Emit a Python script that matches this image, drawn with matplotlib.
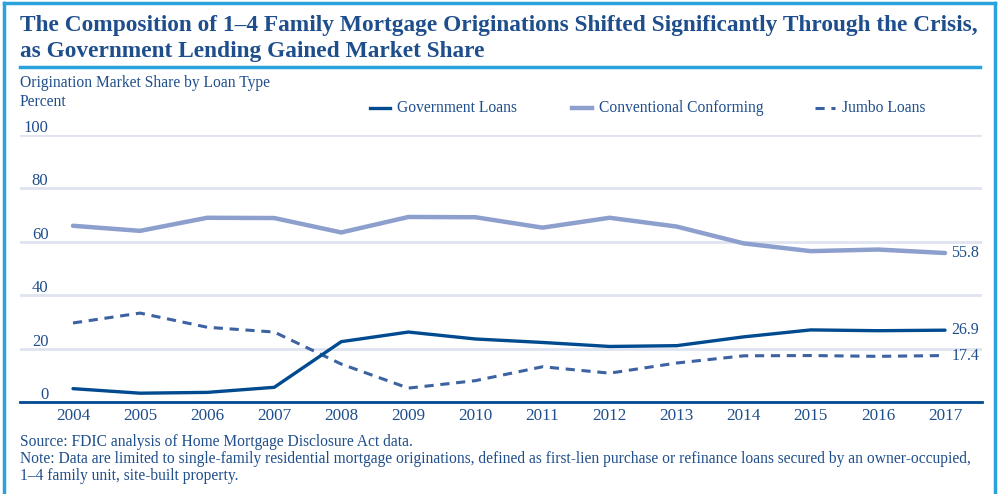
import matplotlib
matplotlib.use("Agg")
import matplotlib.pyplot as plt
from matplotlib.lines import Line2D

years = [2004, 2005, 2006, 2007, 2008, 2009, 2010, 2011, 2012, 2013, 2014, 2015, 2016, 2017]
government = [5.0, 3.3, 3.6, 5.5, 22.6, 26.2, 23.6, 22.3, 20.8, 21.1, 24.4, 27.0, 26.7, 26.9]
conventional = [66.0, 64.1, 69.0, 68.9, 63.5, 69.3, 69.2, 65.3, 69.0, 65.7, 59.4, 56.5, 57.1, 55.8]
jumbo = [29.6, 33.3, 28.0, 26.2, 14.2, 5.2, 8.0, 13.2, 10.8, 14.6, 17.3, 17.4, 17.1, 17.4]
yticks = [0, 20, 40, 60, 80, 100]

W, H = 999, 494
TXT = "#1f4e8c"
C_GOV = "#004a8f"
C_CONV = "#8c9fcd"
C_JUMBO = "#3c62a2"
GRID = "#dfe4f0"
BORDER = "#2aa3dc"
SERIF = ["Liberation Serif", "DejaVu Serif"]
SMALL = 11.2

fig = plt.figure(figsize=(W / 100, H / 100), dpi=100)
fig.patch.set_facecolor("white")

def fx(px):
    return px / W

def fy(py):
    return 1 - py / H

# border
fig.add_artist(Line2D([fx(4), fx(4)], [fy(3), 0], color=BORDER, lw=2.5, transform=fig.transFigure))
fig.add_artist(Line2D([fx(4), fx(995)], [fy(3), fy(3)], color=BORDER, lw=2.5, transform=fig.transFigure))
fig.add_artist(Line2D([fx(995), fx(995)], [fy(3), 0], color=BORDER, lw=2.5, transform=fig.transFigure))
# title underline
fig.add_artist(Line2D([fx(20), fx(980)], [fy(67), fy(67)], color=BORDER, lw=2.5, transform=fig.transFigure))

fig.text(fx(20), fy(25), "The Composition of 1\u20134 Family Mortgage Originations Shifted Significantly Through the Crisis,",
         family=SERIF, fontweight="bold", fontsize=16.8, color=TXT, va="center", ha="left")
fig.text(fx(20), fy(51), "as Government Lending Gained Market Share",
         family=SERIF, fontweight="bold", fontsize=16.8, color=TXT, va="center", ha="left")
fig.text(fx(20), fy(83), "Origination Market Share by Loan Type", family=SERIF, fontsize=SMALL, color=TXT, va="center")
fig.text(fx(20), fy(102), "Percent", family=SERIF, fontsize=SMALL, color=TXT, va="center")

# axes
left, right, top, bottom = 20, 982, 135, 402
ax = fig.add_axes([fx(left), fy(bottom), fx(right - left), (bottom - top) / H])
ax.set_xlim(2004 - 53 / 67.1, 2017 + 37 / 67.1)
ax.set_ylim(0, 100)
for s in ["top", "right", "left"]:
    ax.spines[s].set_visible(False)
ax.spines["bottom"].set_color(C_GOV)
ax.spines["bottom"].set_linewidth(2)
ax.set_yticks([])
ax.set_xticks(years)
ax.set_xticklabels([str(y) for y in years], family=SERIF, fontsize=12.3, color=TXT)
ax.tick_params(axis="x", length=0, pad=4)
for t in yticks[1:]:
    ax.axhline(t, color=GRID, lw=2, zorder=0)
for t in yticks:
    ax.text(0.0295, t + 1.1, str(t), transform=ax.get_yaxis_transform(), ha="right", va="baseline",
            family=SERIF, fontsize=12, color=TXT)

ax.plot(years, conventional, color=C_CONV, lw=3.2, solid_capstyle="round", zorder=3)
ax.plot(years, government, color=C_GOV, lw=2.4, solid_capstyle="round", zorder=4)
ax.plot(years, jumbo, color=C_JUMBO, lw=2.2, linestyle=(0, (3, 2.2)), zorder=3)

for vals in [conventional, government, jumbo]:
    ax.annotate(f"{vals[-1]:.1f}", xy=(years[-1], vals[-1]), xytext=(4.5, 0), textcoords="offset points",
                ha="left", va="center", family=SERIF, fontsize=11.5, color=TXT)

# legend
leg_y = fy(108)
items = [(370, "Government Loans", C_GOV, "-", 2.4),
         (572, "Conventional Conforming", C_CONV, "-", 3.2),
         (815, "Jumbo Loans", C_JUMBO, (0, (3, 2.2)), 2.2)]
for x0, lab, col, ls, lw in items:
    fig.add_artist(Line2D([fx(x0), fx(x0 + 20)], [leg_y, leg_y], color=col, lw=lw, linestyle=ls,
                          transform=fig.transFigure))
    fig.text(fx(x0 + 27), leg_y, lab, family=SERIF, fontsize=SMALL, color=TXT, va="center", ha="left")

fig.text(fx(20), fy(442), "Source: FDIC analysis of Home Mortgage Disclosure Act data.", family=SERIF, fontsize=SMALL,
         color=TXT, va="center")
fig.text(fx(20), fy(459), "Note: Data are limited to single-family residential mortgage originations, defined as first-lien purchase or refinance loans secured by an owner-occupied,",
         family=SERIF, fontsize=SMALL, color=TXT, va="center")
fig.text(fx(20), fy(476), "1\u20134 family unit, site-built property.", family=SERIF, fontsize=SMALL, color=TXT, va="center")

fig.savefig("out.png", dpi=100, facecolor="white")
